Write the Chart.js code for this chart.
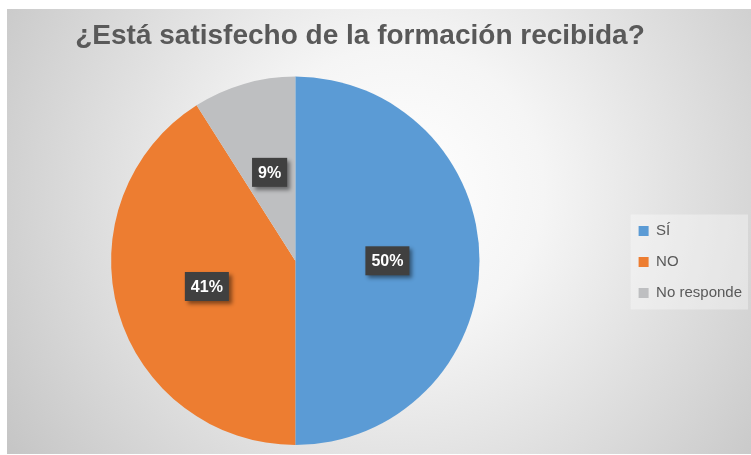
<!DOCTYPE html>
<html>
<head>
<meta charset="utf-8">
<script src="https://cdn.jsdelivr.net/npm/chart.js@4.4.1/dist/chart.umd.min.js"></script>
<style>
  html, body { margin: 0; padding: 0; background: #ffffff; overflow: hidden; }
  /* canvas is a bit wider than the window and pulled left so the pie sits left of centre */
  canvas { display: block; margin-left: -32px; }
</style>
</head>
<body>
<canvas id="pieChart" width="783" height="455"></canvas>
<script>
// Chart data
const categories = ['SÍ', 'NO', 'No responde'];
const percentValues = [50, 41, 9];
const sliceColors = ['#5B9BD5', '#ED7D31', '#BEBFC1'];
const chartTitle = '¿Está satisfecho de la formación recibida?';

const shiftX = 32; // matches the css margin-left

// Radial grey background + lighter legend panel
const backgroundPlugin = {
  id: 'excelBackground',
  beforeDraw(chart) {
    const ctx = chart.ctx;
    ctx.save();
    ctx.fillStyle = '#ffffff';
    ctx.fillRect(0, 0, chart.width, chart.height);

    const cx = 400 + shiftX;
    const grad = ctx.createRadialGradient(cx, 190, 0, cx, 190, 480);
    grad.addColorStop(0, '#ffffff');
    grad.addColorStop(0.3, '#f5f5f5');
    grad.addColorStop(1, '#c4c4c4');
    ctx.fillStyle = grad;
    ctx.fillRect(7 + shiftX, 9, 744, 445);

    const boxes = chart.legend && chart.legend.legendHitBoxes;
    if (boxes && boxes.length) {
      const left = Math.min(...boxes.map(b => b.left)) - 8;
      const right = Math.max(...boxes.map(b => b.left + b.width)) + 6;
      const top = boxes[0].top - 9;
      const last = boxes[boxes.length - 1];
      const bottom = last.top + last.height + 9;
      ctx.fillStyle = 'rgba(255, 255, 255, 0.35)';
      ctx.fillRect(left, top, right - left, bottom - top);
    }
    ctx.restore();
  }
};

// Dark boxed percentage labels in the middle of each slice
const sliceLabelPlugin = {
  id: 'sliceLabels',
  afterDatasetsDraw(chart) {
    const ctx = chart.ctx;
    const meta = chart.getDatasetMeta(0);
    ctx.save();
    ctx.font = 'bold 16px "Liberation Sans", Arial, sans-serif';
    ctx.textAlign = 'center';
    ctx.textBaseline = 'middle';
    meta.data.forEach((arc, i) => {
      const pos = arc.tooltipPosition();
      const text = percentValues[i] + '%';
      const w = ctx.measureText(text).width + 12;
      const h = 29;

      ctx.shadowColor = 'rgba(0, 0, 0, 0.45)';
      ctx.shadowBlur = 4;
      ctx.shadowOffsetX = 3;
      ctx.shadowOffsetY = 3;
      ctx.fillStyle = '#404040';
      ctx.fillRect(pos.x - w / 2, pos.y - h / 2, w, h);

      ctx.shadowColor = 'transparent';
      ctx.fillStyle = '#ffffff';
      ctx.fillText(text, pos.x, pos.y + 1);
    });
    ctx.restore();
  }
};

const ctx = document.getElementById('pieChart').getContext('2d');
const pieChart = new Chart(ctx, {
  type: 'pie',
  data: {
    labels: categories,
    datasets: [{
      data: percentValues,
      backgroundColor: sliceColors,
      borderWidth: 0,
      hoverOffset: 0
    }]
  },
  options: {
    responsive: false,
    animation: false,
    devicePixelRatio: 1,
    events: [],
    layout: {
      padding: { top: 9, left: 0, right: -1, bottom: 10 }
    },
    plugins: {
      title: {
        display: true,
        text: chartTitle,
        color: '#595959',
        font: { family: '"Liberation Sans", Arial, sans-serif', size: 28, weight: 'bold', lineHeight: 1.2 },
        padding: { top: 10, bottom: 24 }
      },
      legend: {
        position: 'right',
        align: 'center',
        // empty legend title only used as a spacer to push the items down
        title: {
          display: true,
          text: '',
          font: { size: 12, lineHeight: 1 },
          padding: { top: 58, bottom: 0 }
        },
        labels: {
          color: '#595959',
          boxWidth: 10,
          boxHeight: 10,
          padding: 16,
          font: { family: '"Liberation Sans", Arial, sans-serif', size: 15, lineHeight: 1 }
        }
      },
      tooltip: { enabled: false }
    }
  },
  plugins: [backgroundPlugin, sliceLabelPlugin]
});
</script>
</body>
</html>
